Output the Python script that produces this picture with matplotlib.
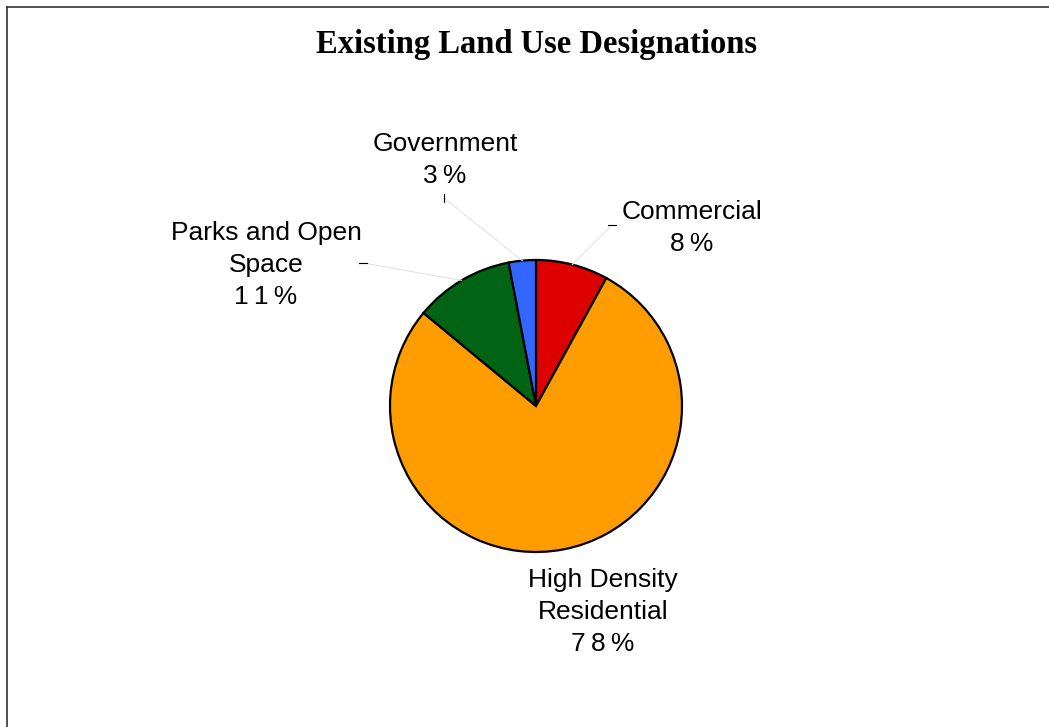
import numpy as np
import matplotlib.pyplot as plt
from matplotlib.lines import Line2D

# data
labels = ["Commercial", "High Density\nResidential", "Parks and Open\nSpace", "Government"]
shares = [8, 78, 11, 3]
colors = ["#dc0000", "#ff9c00", "#006414", "#3366ff"]

W, H = 1049, 727
fig = plt.figure(figsize=(W / 100, H / 100), dpi=100)
ax = fig.add_axes([0, 0, 1, 1])

cx, cy, r = 536, H - 406, 146
wedges, _ = ax.pie(shares, colors=colors, startangle=90, counterclock=False,
                   center=(cx, cy), radius=r, frame=True,
                   wedgeprops=dict(edgecolor="black", linewidth=1.6))
ax.set_xlim(0, W)
ax.set_ylim(0, H)
ax.axis("off")

# label anchors (pixel coords from top) and leader-line start points
label_pos = [(692, 228), (603, 612), (266, 265), (445, 160)]
leader = [(612, 225, "h"), None, (363, 263, "h"), (444, 198, "v")]

for w, lab, s, pos, ld in zip(wedges, labels, shares, label_pos, leader):
    pct = "\u2009".join(f"{s}%")
    ax.text(pos[0], H - pos[1], f"{lab}\n{pct}", ha="center", va="center",
            fontsize=19, family="Liberation Sans", linespacing=1.42)
    if ld is None:
        continue
    mid = np.deg2rad((w.theta1 + w.theta2) / 2)
    ex, ey = cx + r * np.cos(mid), cy + r * np.sin(mid)
    lx, ly = ld[0], H - ld[1]
    ax.add_line(Line2D([lx, ex], [ly, ey], color="#e4e4e4", lw=0.8))
    if ld[2] == "h":
        ax.add_line(Line2D([lx - 4, lx + 4], [ly, ly], color="black", lw=0.8))
    else:
        ax.add_line(Line2D([lx, lx], [ly - 4, ly + 4], color="black", lw=0.8))

ax.text(536, H - 44, "Existing Land Use Designations", ha="center", va="center",
        fontsize=23.5, fontweight="bold", family="Liberation Serif")

# frame (top and left edges visible)
ax.add_line(Line2D([7, W], [H - 7, H - 7], color="#333333", lw=1.2))
ax.add_line(Line2D([7, 7], [H - 7, 0], color="#333333", lw=1.2))

fig.savefig("out.png", dpi=100)
